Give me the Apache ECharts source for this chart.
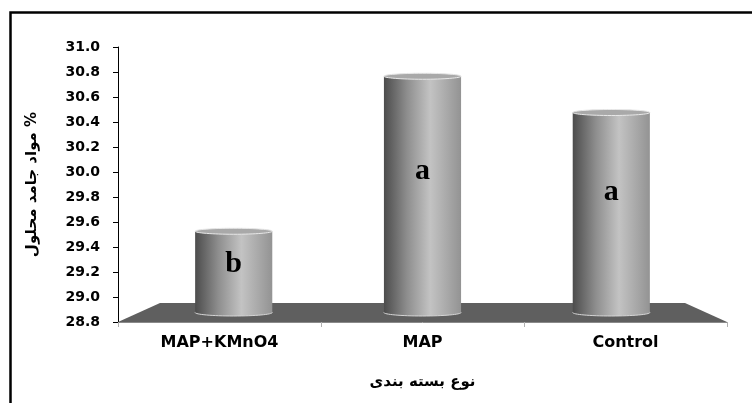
<!DOCTYPE html>
<html>
<head>
<meta charset="utf-8">
<script src="https://cdn.jsdelivr.net/npm/echarts@6/dist/echarts.min.js"></script>
<style>
  html, body { margin: 0; padding: 0; background: #fff; }
  #chart { width: 752px; height: 403px; }
</style>
</head>
<body>
<div id="chart"></div>
<script>
// Total soluble solids (%) by packaging type
const categories = ['MAP+KMnO4', 'MAP', 'Control'];
const solids = [29.45, 30.69, 30.40];
const letters = ['b', 'a', 'a'];
const yTickLabels = ['28.8', '29.0', '29.2', '29.4', '29.6', '29.8', '30.0', '30.2', '30.4', '30.6', '30.8', '31.0'];
const yMin = 28.8, yMax = 31.0, yStep = 0.2;

// pseudo-3D floor geometry
const DEPTH = 19;       // vertical depth of the floor
const INSET = 42;       // horizontal shrink of the back edge
const MID_SCALE = 0.93; // horizontal perspective factor at mid depth

const chart = echarts.init(document.getElementById('chart'), null, { renderer: 'canvas' });

function floorItem(params, api) {
  const band = api.size([1, 0])[0];
  const left = api.coord([0, yMin])[0] - band / 2;
  const right = api.coord([categories.length - 1, yMin])[0] + band / 2;
  const y = api.coord([0, yMin])[1];
  return {
    type: 'polygon',
    silent: true,
    shape: { points: [[left, y], [right, y], [right - INSET, y - DEPTH], [left + INSET, y - DEPTH]] },
    style: { fill: '#5f5f5f' }
  };
}

function cylinderItem(params, api) {
  const i = api.value(0), v = api.value(1);
  const band = api.size([1, 0])[0];
  const cs = params.coordSys;
  const centerX = cs.x + cs.width / 2;
  const p = api.coord([i, v]);
  const base = api.coord([i, yMin]);
  const cx = centerX + (p[0] - centerX) * MID_SCALE;
  const w = band * 0.38;
  const rx = w / 2;
  const top = p[1] - DEPTH / 2;
  const bot = base[1] - DEPTH / 2;
  const body = () => new echarts.graphic.LinearGradient(0, 0, 1, 0, [
    { offset: 0, color: '#4c4c4c' },
    { offset: 0.3, color: '#8e8e8e' },
    { offset: 0.6, color: '#c3c3c3' },
    { offset: 1, color: '#939393' }
  ]);
  return {
    type: 'group',
    children: [
      { type: 'ellipse', shape: { cx: cx, cy: bot, rx: rx, ry: 3.5 }, style: { fill: body(), stroke: '#d6d6d6', lineWidth: 1 } },
      { type: 'rect', shape: { x: cx - rx, y: top, width: w, height: bot - top }, style: { fill: body() } },
      { type: 'ellipse', shape: { cx: cx, cy: top, rx: rx, ry: 3 }, style: { fill: '#a9a9a9', stroke: '#e8e8e8', lineWidth: 1 } },
      {
        type: 'text',
        style: {
          text: letters[params.dataIndex],
          x: cx, y: top + 0.4 * (bot - top),
          align: 'center', verticalAlign: 'middle',
          font: 'bold 30px "Liberation Serif", "Times New Roman", serif',
          fill: '#000'
        }
      }
    ]
  };
}

const titleFont = { fontFamily: 'DejaVu Sans', fontWeight: 'bold', fontSize: 15, color: '#000' };

chart.setOption({
  animation: false,
  backgroundColor: '#fff',
  grid: { left: 118, right: 25, top: 47, bottom: 81, containLabel: false, outerBoundsMode: 'none' },
  xAxis: {
    type: 'category',
    data: categories,
    axisLine: { show: true, lineStyle: { color: '#8a8a8a', width: 1 } },
    axisTick: { show: true, length: 5, lineStyle: { color: '#b0b0b0' } },
    axisLabel: { fontFamily: 'DejaVu Sans', fontWeight: 'bold', fontSize: 16, color: '#000', margin: 13 },
    name: 'نوع بسته بندی',
    nameLocation: 'middle',
    nameGap: 53,
    nameTextStyle: titleFont
  },
  yAxis: {
    type: 'value',
    min: yMin, max: yMax, interval: yStep,
    axisLine: { show: true, lineStyle: { color: '#000', width: 1 } },
    axisTick: { show: true, length: 5, lineStyle: { color: '#000' } },
    splitLine: { show: false },
    axisLabel: {
      formatter: (val, idx) => yTickLabels[idx] !== undefined ? yTickLabels[idx] : val.toFixed(1),
      fontFamily: 'DejaVu Sans', fontWeight: 'bold', fontSize: 14, color: '#000', margin: 18
    },
    name: 'مواد جامد محلول %',
    nameLocation: 'middle',
    nameRotate: 90,
    nameGap: 78,
    nameTextStyle: titleFont
  },
  series: [
    {
      type: 'custom',
      renderItem: floorItem,
      data: [[0, yMin]],
      silent: true,
      z: 1
    },
    {
      type: 'custom',
      renderItem: cylinderItem,
      data: categories.map((c, i) => [i, solids[i]]),
      z: 2
    }
  ],
  graphic: [
    {
      type: 'rect',
      z: 100,
      silent: true,
      shape: { x: 10.5, y: 12.5, width: 900, height: 600 },
      style: { fill: 'transparent', stroke: '#000', lineWidth: 2.5 }
    }
  ]
});
</script>
</body>
</html>
